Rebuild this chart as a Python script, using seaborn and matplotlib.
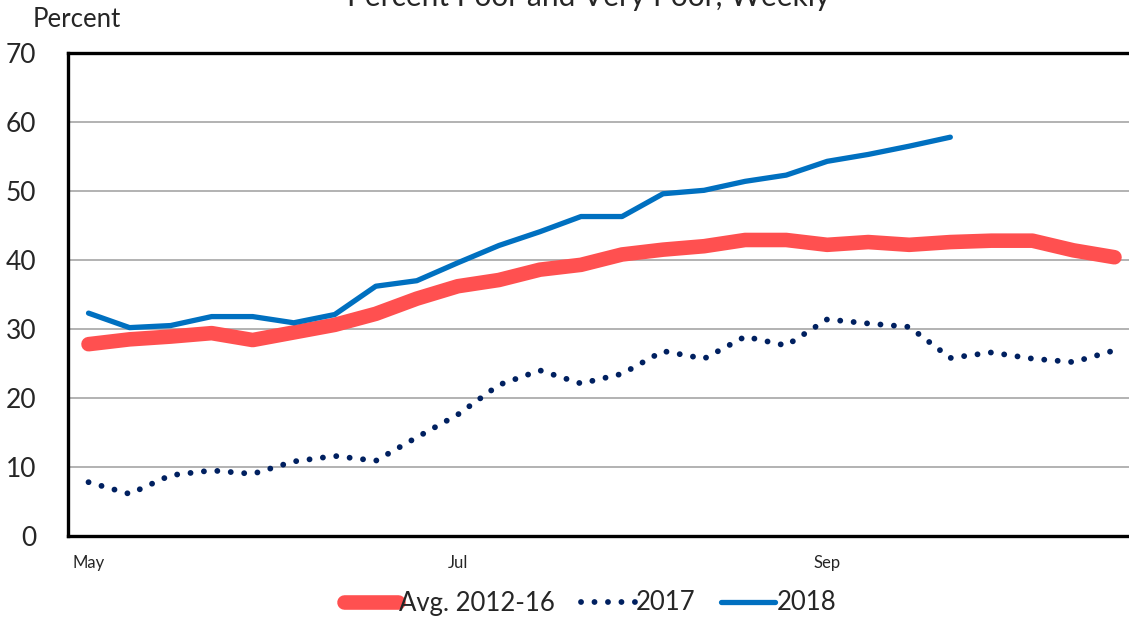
import numpy as np
import pandas as pd
import seaborn as sns
import matplotlib.pyplot as plt

# weekly values, percent poor + very poor
weeks = list(range(26))
avg_12_16 = [27.8, 28.5, 28.9, 29.4, 28.4, 29.5, 30.6, 32.2, 34.4, 36.2, 37.1, 38.6, 39.3,
             40.8, 41.5, 42.0, 42.9, 42.9, 42.2, 42.6, 42.2, 42.6, 42.8, 42.8, 41.4, 40.4]
y2017 = [7.8, 6.1, 8.8, 9.5, 9.0, 10.8, 11.6, 10.9, 14.3, 17.6, 21.9, 24.0, 22.1,
         23.5, 26.8, 25.7, 28.9, 27.6, 31.4, 30.8, 30.3, 25.8, 26.6, 25.7, 25.2, 26.9]
y2018 = [32.3, 30.2, 30.5, 31.8, 31.8, 30.9, 32.1, 36.2, 37.0, 39.6, 42.1, 44.1, 46.3,
         46.3, 49.6, 50.1, 51.4, 52.3, 54.3, 55.3, 56.5, 57.8]
month_pos = [0, 9, 18]
month_labels = ['May', 'Jul', 'Sep']

df_avg = pd.DataFrame({'week': weeks, 'pct': avg_12_16})
df_17 = pd.DataFrame({'week': weeks, 'pct': y2017})
df_18 = pd.DataFrame({'week': weeks[:len(y2018)], 'pct': y2018})

sns.set_style('white')
plt.rcParams['font.family'] = ['Lato', 'DejaVu Sans']

fig = plt.figure(figsize=(11.29, 6.21), dpi=100)
ax = fig.add_axes([68 / 1129, 1 - 536 / 621, 1067 / 1129, 483 / 621])

sns.lineplot(data=df_avg, x='week', y='pct', ax=ax, color='#FF5050', lw=10.5,
             solid_capstyle='round', label='Avg. 2012-16')
sns.lineplot(data=df_17, x='week', y='pct', ax=ax, color='#002060', lw=4.2,
             linestyle=(0, (0.01, 2.3)), dash_capstyle='round', label='2017')
sns.lineplot(data=df_18, x='week', y='pct', ax=ax, color='#0070C0', lw=3.8,
             solid_capstyle='round', label='2018')

ax.set_xlim(-0.5, 25.5)
ax.set_ylim(0, 70)
ax.set_yticks(range(0, 71, 10))
ax.set_yticks(range(0, 71, 2), minor=True)
ax.yaxis.grid(True, color='#A6A6A6', lw=1.2)
ax.set_axisbelow(True)
ax.set_xticks(month_pos, month_labels)
ax.set_xticks(np.arange(-0.5, 25.6, 1), minor=True)
ax.tick_params(axis='x', which='major', length=0, pad=14, labelsize=12)
ax.tick_params(axis='x', which='minor', length=6, width=1.2, direction='out', color='black')
ax.tick_params(axis='y', which='both', length=7, width=1.2, direction='out', color='black',
               labelsize=19, pad=16)
ax.tick_params(axis='y', which='minor', length=7)
ax.set_xlabel('')
ax.set_ylabel('')

for side in ['left', 'bottom', 'top']:
    ax.spines[side].set_color('black')
    ax.spines[side].set_linewidth(2.4)
ax.spines['right'].set_visible(False)

fig.text(589 / 1129, 1 - 6 / 621, 'Percent Poor and Very Poor, Weekly', ha='center',
         va='baseline', fontsize=21.5)
fig.text(33 / 1129, 1 - 27 / 621, 'Percent', ha='left', va='baseline', fontsize=18.5)

ax.legend(loc='center', bbox_to_anchor=(590 / 1129, 1 - 603 / 621),
          bbox_transform=fig.transFigure, ncol=3, frameon=False, fontsize=18.5,
          handlelength=2.1, handletextpad=0.05, columnspacing=1.0)

fig.savefig('out.png', dpi=100)
